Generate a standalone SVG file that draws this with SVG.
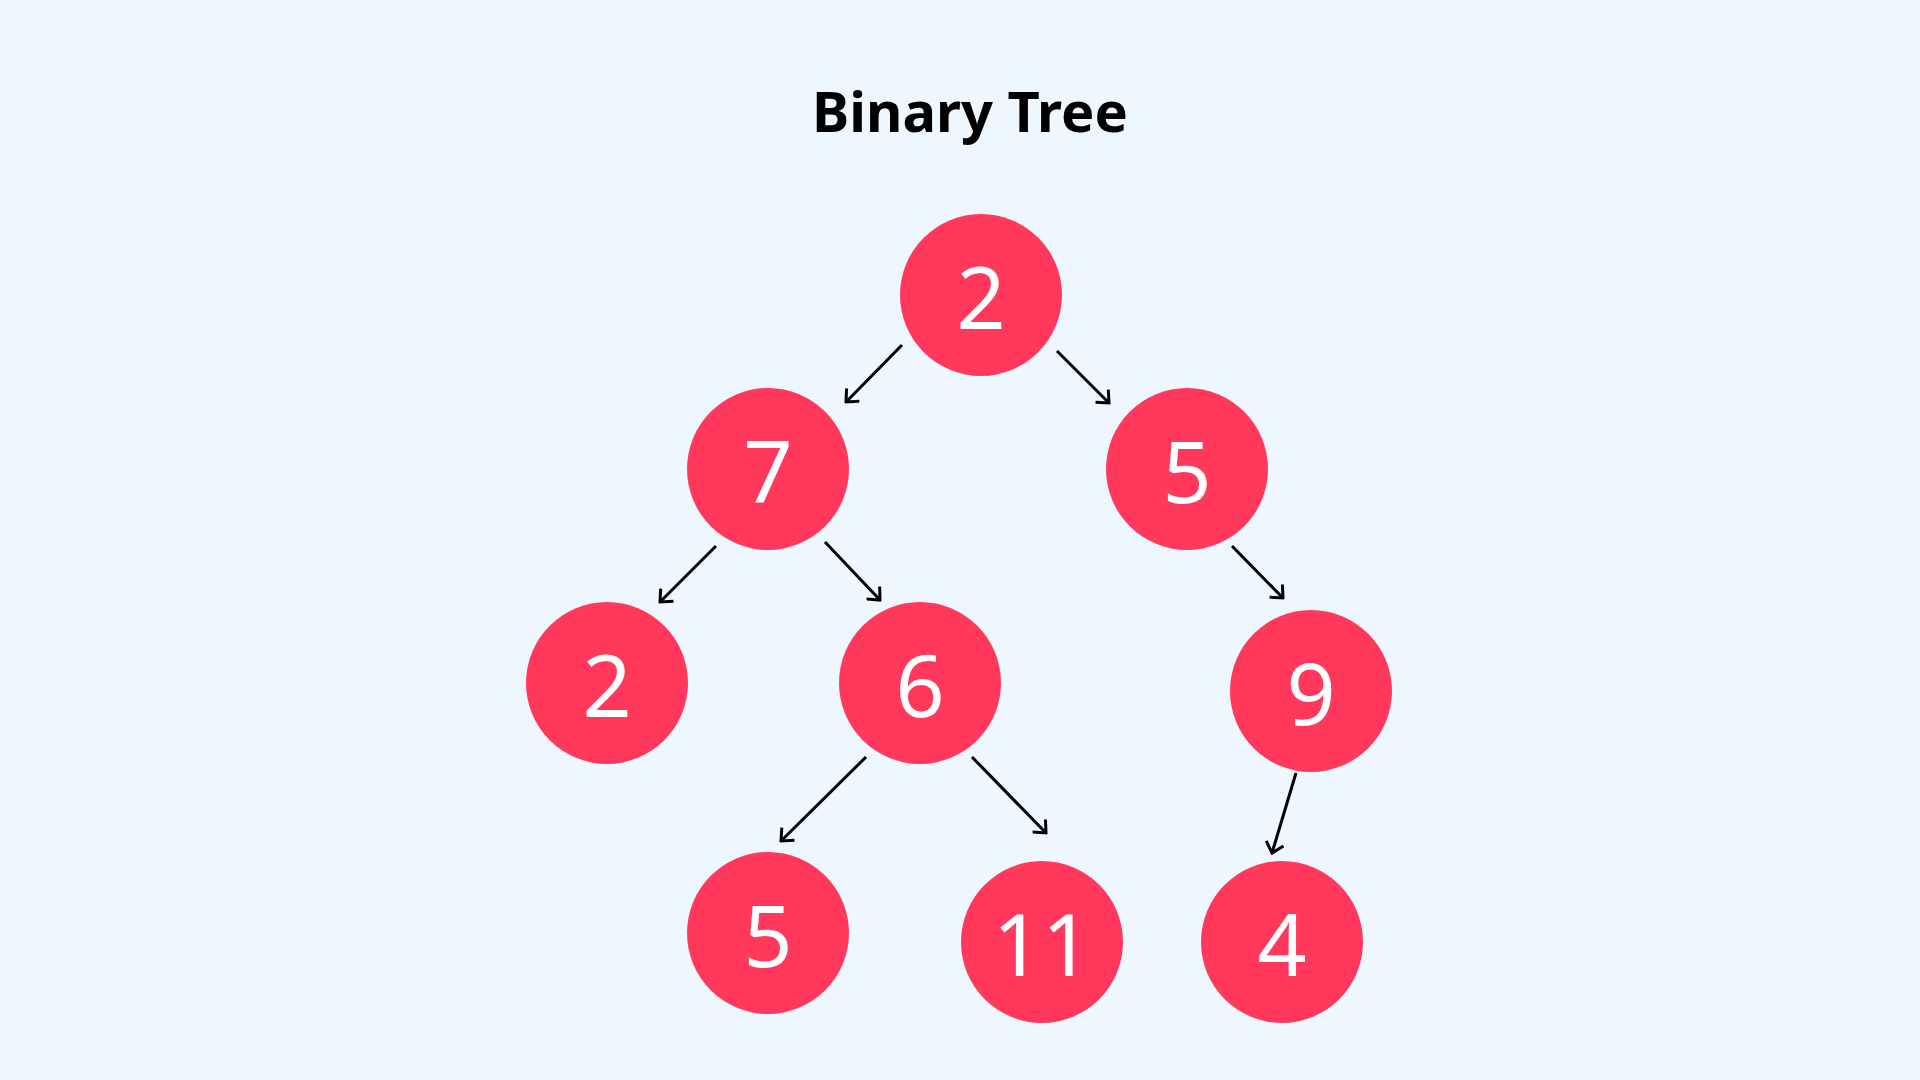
<svg xmlns="http://www.w3.org/2000/svg" width="1920" height="1080" viewBox="0 0 1920 1080">
<style>
.n{fill:#FF385C}
.t{fill:#fff;font-family:"Noto Sans",sans-serif;font-size:86px;text-anchor:middle;dominant-baseline:central}
.e{stroke:#000;stroke-width:3;fill:none;marker-end:url(#a)}
</style>
<defs><marker id="a" viewBox="0 0 20 20" refX="18" refY="10" markerWidth="20" markerHeight="20" markerUnits="userSpaceOnUse" orient="auto"><polyline points="8,1 18,10 8,19" fill="none" stroke="#000" stroke-width="3"/></marker></defs>
<rect width="1920" height="1080" fill="#EEF6FE"/>
<text x="970" y="110" font-family="'Noto Sans',sans-serif" font-weight="bold" font-size="56" text-anchor="middle" dominant-baseline="central">Binary Tree</text>
<g id="connectors">
<line class="e" x1="902" y1="345" x2="846" y2="402"/>
<line class="e" x1="1057" y1="351" x2="1109" y2="403"/>
<line class="e" x1="716" y1="546" x2="660" y2="602"/>
<line class="e" x1="825" y1="542" x2="880" y2="600"/>
<line class="e" x1="1232" y1="546" x2="1283" y2="598"/>
<line class="e" x1="866" y1="757" x2="781" y2="841"/>
<line class="e" x1="972" y1="757" x2="1046" y2="833"/>
<line class="e" x1="1296" y1="773" x2="1272" y2="853"/>
</g>
<g id="n1"><circle class="n" cx="981" cy="295" r="81"/><text class="t" x="981" y="295">2</text></g>
<g id="n2"><circle class="n" cx="768" cy="469" r="81"/><text class="t" x="768" y="469">7</text></g>
<g id="n3"><circle class="n" cx="1187" cy="469" r="81"/><text class="t" x="1187" y="469">5</text></g>
<g id="n4"><circle class="n" cx="607" cy="683" r="81"/><text class="t" x="607" y="683">2</text></g>
<g id="n5"><circle class="n" cx="920" cy="683" r="81"/><text class="t" x="920" y="683">6</text></g>
<g id="n6"><circle class="n" cx="1311" cy="691" r="81"/><text class="t" x="1311" y="691">9</text></g>
<g id="n7"><circle class="n" cx="768" cy="933" r="81"/><text class="t" x="768" y="933">5</text></g>
<g id="n8"><circle class="n" cx="1042" cy="942" r="81"/><text class="t" x="1042" y="942">11</text></g>
<g id="n9"><circle class="n" cx="1282" cy="942" r="81"/><text class="t" x="1282" y="942">4</text></g>
</svg>
